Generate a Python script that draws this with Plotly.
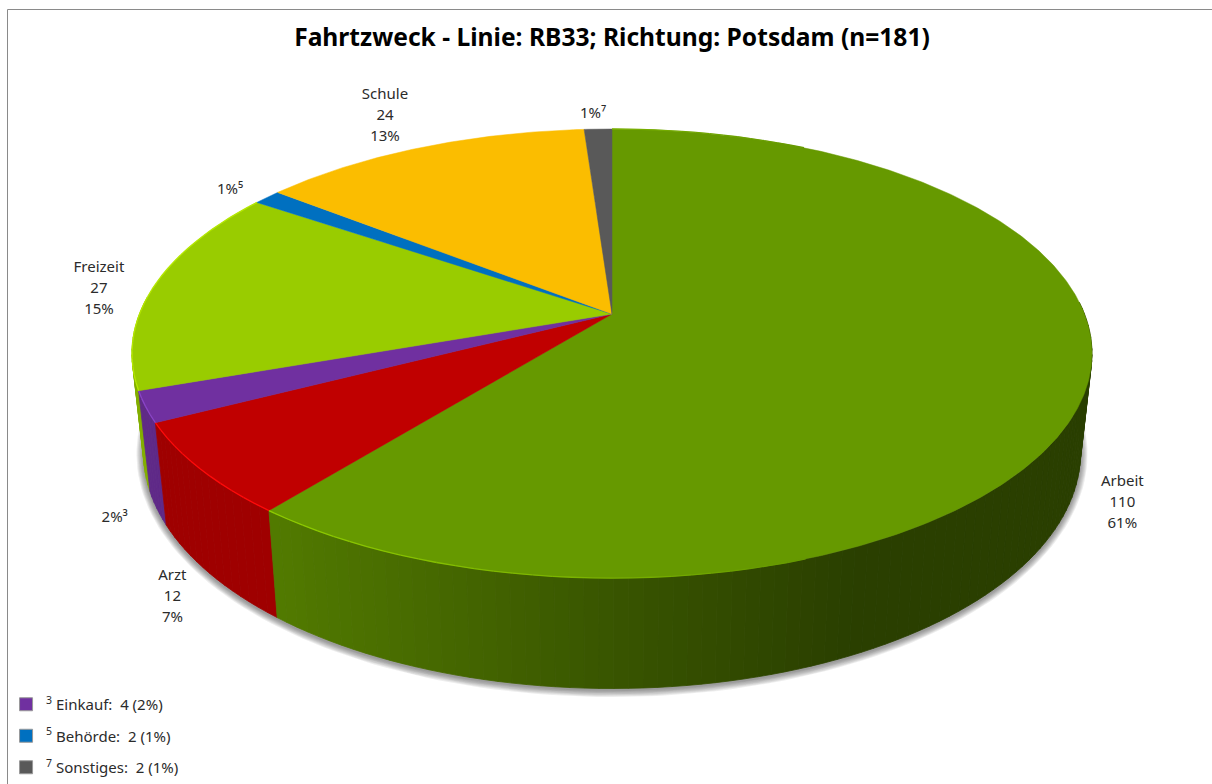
import numpy as np
import plotly.graph_objects as go

# ---- data ----
categories = ["Arbeit", "Arzt", "Einkauf", "Freizeit", "Behörde", "Schule", "Sonstiges"]
values = [110, 12, 4, 27, 2, 24, 2]
percent_labels = ["61%", "7%", "2%³", "15%", "1%⁵", "13%", "1%⁷"]
show_name_value = [True, True, False, True, False, True, False]
legend_entries = ["<sup>3</sup> Einkauf:  4 (2%)", "<sup>5</sup> Behörde:  2 (1%)", "<sup>7</sup> Sonstiges:  2 (1%)"]
legend_categories = ["Einkauf", "Behörde", "Sonstiges"]
title_text = "Fahrtzweck - Linie: RB33; Richtung: Potsdam (n=181)"

# ---- style ----
colors = dict(zip(categories, ["#669900", "#C00000", "#7030A0", "#99CC00", "#0070C0", "#FBBD00", "#595959"]))
rim_colors = dict(zip(categories, ["#8FCC00", "#FF0A0A", "#8A45C8", "#B5E800", "#0070C0", "#FBBD00", "#595959"]))
LABEL_OFFSETS = [(37, 113), (-28, 128), (-31, 111), (-55, 3), (-37, -7), (-36, -31), (-5, -15)]
FONT = "Noto Sans"
W, H = 1212, 784
CX, APEX_Y, KX, B, C = 612.0, 314.0, 472.5, -162.3, 0.176
RIM_CY, RIM_RY, BOT_CY, BOT_RY, BOT_SX = 354.0, 224.5, 453.0, 236.0, 0.976


def rim(theta_deg):
    t = np.radians(theta_deg)
    sx, cy = np.sin(t), np.cos(t)
    d = 1 + C * cy
    return CX + KX * sx / d, (APEX_Y + B * cy) / d


def bottom(theta_deg):
    x, y = rim(theta_deg)
    return CX + (x - CX) * BOT_SX, BOT_CY + (y - RIM_CY) * BOT_RY / RIM_RY


def rgb(hexs):
    return np.array([int(hexs[i:i + 2], 16) for i in (1, 3, 5)], float)


def css(c):
    return "rgb(%d,%d,%d)" % tuple(np.clip(np.round(c), 0, 255))


total = sum(values)
edges = np.concatenate([[0], np.cumsum(values)]) / total * 360.0

fig = go.Figure()


def poly(xs, ys, fill, line=None, width=0.8):
    fig.add_trace(go.Scatter(x=xs, y=ys, mode="lines", fill="toself", fillcolor=fill,
                             line=dict(color=line or fill, width=width), hoverinfo="skip", showlegend=False))


# soft shadow beneath the body
ang = np.linspace(0, 360, 241)
bx, by = bottom(ang)
for k in range(7, 0, -1):
    sx = CX + (bx - CX) * (1 + k / 468.0)
    sy = BOT_CY + 1.5 + (by - BOT_CY) * (1 + k / 236.0)
    poly(list(sx), list(sy), "rgba(60,60,60,0.09)", line="rgba(0,0,0,0)", width=0)

# side wall strips, painted back to front
STEP = 1.5
strips = []
for i, cat in enumerate(categories):
    a0, a1 = edges[i], edges[i + 1]
    n = max(1, int(np.ceil((a1 - a0) / STEP)))
    tt = np.linspace(a0, a1, n + 1)
    for p, q in zip(tt[:-1], tt[1:]):
        if rim((p + q) / 2)[1] > 300:
            strips.append((cat, p, q))
strips.sort(key=lambda s: rim((s[1] + s[2]) / 2)[1])
for cat, p, q in strips:
    x0, y0 = rim(p); x1, y1 = rim(q); x2, y2 = bottom(q); x3, y3 = bottom(p)
    shade = np.interp((x0 + x1) / 2, [130, 270, 620, 860, 1100], [0.86, 0.80, 0.55, 0.41, 0.41])
    if cat == "Arzt":
        shade = 0.83
    if cat == "Einkauf":
        shade = 0.85
    col = css(rgb(colors[cat]) * shade)
    poly([x0, x1, x2, x3, x0], [y0, y1, y2, y3, y0], col)

# top face
for i, cat in enumerate(categories):
    tt = np.linspace(edges[i], edges[i + 1], max(3, int(values[i] * 4)))
    xs, ys = rim(tt)
    poly([CX] + list(xs) + [CX], [APEX_Y] + list(ys) + [APEX_Y], colors[cat], width=0.5)

# lit upper edge of the wall, fading toward the dark side
for i, cat in enumerate(categories[:4]):
    tt = np.arange(edges[i], edges[i + 1] + 1e-6, 2.0)
    tt = np.append(tt, edges[i + 1])
    for p, q in zip(tt[:-1], tt[1:]):
        if q - p < 1e-6:
            continue
        x0, y0 = rim(p); x1, y1 = rim(q)
        if (x0 + x1) / 2 > 800:
            continue
        w = np.interp((x0 + x1) / 2, [270, 620, 800], [1.0, 0.45, 0.0])
        col = css(rgb(colors[cat]) * (1 - w) + rgb(rim_colors[cat]) * w)
        fig.add_trace(go.Scatter(x=[x0, x1], y=[y0, y1], mode="lines", line=dict(color=col, width=1.3),
                                 hoverinfo="skip", showlegend=False))

# data labels: three rows at a fixed pitch below/above the anchor
lx, ly, lt = [], [], []
for i, cat in enumerate(categories):
    ax, ay = rim((edges[i] + edges[i + 1]) / 2)
    ax += LABEL_OFFSETS[i][0]; ay += LABEL_OFFSETS[i][1]
    rows = [cat, str(values[i]), percent_labels[i]] if show_name_value[i] else [percent_labels[i]]
    for r, txt in enumerate(rows):
        lx.append(ax); ly.append(ay + (r - (len(rows) - 1) / 2) * 21); lt.append(txt)
fig.add_trace(go.Scatter(x=lx, y=ly, text=lt, mode="text", textposition="middle center",
                         textfont=dict(family=FONT, size=15, color="#2b2b2b"), hoverinfo="skip", showlegend=False))

# legend
for name, cat in zip(legend_entries, legend_categories):
    fig.add_trace(go.Scatter(x=[None], y=[None], mode="markers", name=name, legendgroup=cat,
                             marker=dict(symbol="square", size=13, color=colors[cat], line=dict(color="#999999", width=1))))

fig.update_layout(
    width=W, height=H, margin=dict(l=0, r=0, t=0, b=0),
    paper_bgcolor="white", plot_bgcolor="white",
    xaxis=dict(range=[0, W], visible=False, fixedrange=True),
    yaxis=dict(range=[H, 0], visible=False, fixedrange=True),
    title=dict(text="<b>" + title_text + "</b>", x=612 / W, xanchor="center", y=1 - 37 / H, yanchor="middle",
               font=dict(family=FONT, size=24.6, color="#000000")),
    legend=dict(x=0.005, y=0.0, xanchor="left", yanchor="bottom", bgcolor="rgba(0,0,0,0)", itemwidth=30,
                tracegroupgap=9, font=dict(family=FONT, size=15, color="#2b2b2b"), traceorder="grouped"),
    shapes=[
        dict(type="line", xref="paper", yref="paper", x0=7.5 / W, x1=7.5 / W, y0=0, y1=1 - 9.5 / H, line=dict(color="#8a8a8a", width=1)),
        dict(type="line", xref="paper", yref="paper", x0=7.5 / W, x1=1, y0=1 - 9.5 / H, y1=1 - 9.5 / H, line=dict(color="#8a8a8a", width=1)),
    ],
)
fig.write_html("out.html", config={"displayModeBar": False}, post_script="document.body.style.margin='0';")
